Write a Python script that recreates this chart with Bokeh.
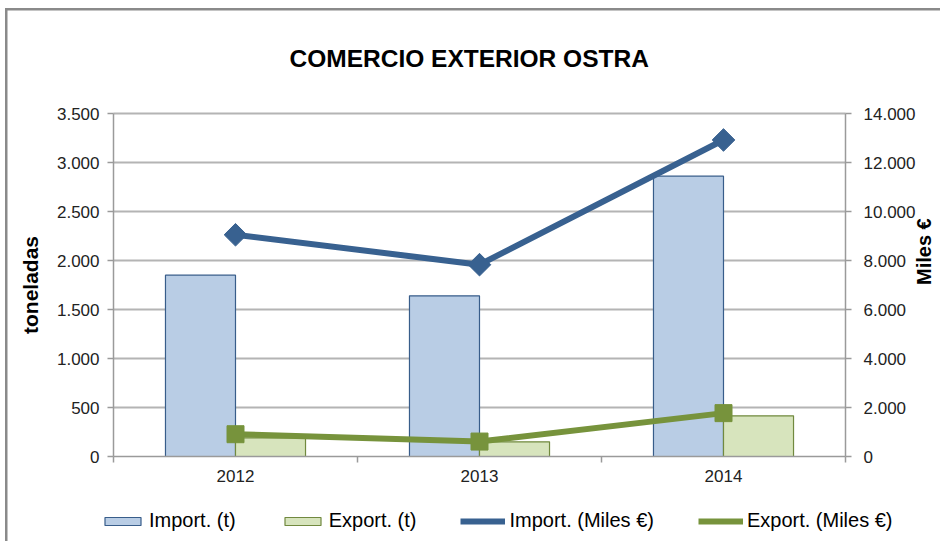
import numpy as np
from bokeh.plotting import figure
from bokeh.models import (Range1d, LinearAxis, FixedTicker, CustomJSTickFormatter,
                          Legend, LegendItem, ColumnDataSource)
from bokeh.transform import dodge
from bokeh.embed import file_html
from bokeh.resources import INLINE

# ---- data ----
years = ["2012", "2013", "2014"]
import_t = [1850, 1640, 2860]
export_t = [190, 150, 415]
import_eur = [9050, 7830, 12920]
export_eur = [910, 610, 1770]
left_ticks = [0, 500, 1000, 1500, 2000, 2500, 3000, 3500]
right_ticks = [0, 2000, 4000, 6000, 8000, 10000, 12000, 14000]
series_names = ["Import. (t)", "Export. (t)", "Import. (Miles €)", "Export. (Miles €)"]

# ---- layout constants (pixels) ----
W, H = 940, 541
FRAME_TOP = 96            # top of the drawing frame (below the title)
TOP = 113                 # top of the value axes
AX_L, AX_R = 113, 845     # left / right value axes
AX_B = 456                # category axis (zero line)

FONT = "Liberation Sans"
IMP_FILL, IMP_LINE = "#B9CDE5", "#385D8A"
EXP_FILL, EXP_LINE = "#D7E4BD", "#71893F"
IMP_SERIES = "#386190"
EXP_SERIES = "#77933C"
GRID = "#B4B4B4"
AXIS = "#9A9A9A"

n = len(years)
xpos = [i + 0.5 for i in range(n)]
src = ColumnDataSource(dict(x=xpos, year=years, imp_t=import_t, exp_t=export_t,
                            imp_e=import_eur, exp_e=export_eur))

# the frame covers the picture below the title; axes sit at fixed data locations
px_x = (AX_R - AX_L) / n
x_range = Range1d(-AX_L / px_x, n + (W - AX_R) / px_x)
ly0, ly1 = left_ticks[0], left_ticks[-1]
ry0, ry1 = right_ticks[0], right_ticks[-1]
below = (H - AX_B) / (AX_B - TOP)
above = (TOP - FRAME_TOP) / (AX_B - TOP)
y_range = Range1d(ly0 - below * (ly1 - ly0), ly1 + above * (ly1 - ly0))

p = figure(width=W, height=H, output_backend="svg", toolbar_location=None,
           x_range=x_range, y_range=y_range,
           min_border_left=0, min_border_right=0, min_border_top=FRAME_TOP, min_border_bottom=0,
           y_axis_location=None)
p.outline_line_color = None
p.background_fill_color = None
p.border_fill_color = None
# chart-area border: only its top and left edges are inside the picture
p.styles = {"background-color": "white",
            "box-shadow": "inset 5px 8px 0 0 #FFFFFF, inset 7.5px 10.5px 0 0 #8A8A8A"}

p.title.text = "COMERCIO EXTERIOR OSTRA"
p.title.text_font = FONT
p.title.text_font_size = "24.5px"
p.title.text_font_style = "bold"
p.title.text_color = "#000000"
p.title.align = "left"
p.title.offset = 289
p.title.standoff = 50

fmt = CustomJSTickFormatter(code="return Math.round(tick).toString().replace(/\\B(?=(\\d{3})+(?!\\d))/g, '.');")

def style_axis(ax):
    ax.axis_line_color = AXIS
    ax.axis_line_width = 1.5
    ax.major_tick_line_color = AXIS
    ax.major_tick_line_width = 1.5
    ax.major_tick_out = 6
    ax.major_tick_in = 0
    ax.minor_tick_line_color = None
    ax.major_label_text_font = FONT
    ax.major_label_text_font_size = "17px"
    ax.major_label_text_color = "#222222"
    ax.axis_label_text_font = FONT
    ax.axis_label_text_font_size = "21px"
    ax.axis_label_text_font_style = "bold"
    ax.axis_label_text_color = "#000000"

# left axis
yl = LinearAxis(ticker=FixedTicker(ticks=left_ticks), formatter=fmt, axis_label="toneladas",
                fixed_location=0, bounds=(ly0, ly1))
style_axis(yl)
yl.major_label_standoff = 8
yl.axis_label_standoff = 12
p.add_layout(yl, "left")

# right axis
eur_range = Range1d(ry0 - below * (ry1 - ry0), ry1 + above * (ry1 - ry0))
p.extra_y_ranges = {"eur": eur_range}
yr = LinearAxis(y_range_name="eur", ticker=FixedTicker(ticks=right_ticks), formatter=fmt,
                axis_label="Miles €", fixed_location=n, bounds=(ry0, ry1))
style_axis(yr)
yr.axis_label_text_font_size = "20px"
yr.axis_label_orientation = np.pi / 2
yr.major_label_standoff = 12
yr.axis_label_standoff = 6
p.add_layout(yr, "right")

# category axis
xa = p.xaxis[0]
xa.fixed_location = ly0
xa.bounds = (0, n)
xa.ticker = FixedTicker(ticks=xpos, minor_ticks=list(range(n + 1)))
xa.formatter = CustomJSTickFormatter(args=dict(years=years),
                                     code="return years[Math.floor(tick)];")
style_axis(xa)
xa.major_tick_line_color = None
xa.minor_tick_line_color = AXIS
xa.minor_tick_line_width = 1.5
xa.minor_tick_out = 6
xa.minor_tick_in = 0
xa.major_label_standoff = 7

# horizontal grid lines, restricted to the plotting area
p.xgrid.visible = False
grid = p.ygrid[0]
if "cross_bounds" in grid.properties():
    grid.ticker = FixedTicker(ticks=left_ticks[1:])
    grid.cross_bounds = (0, n)
    grid.grid_line_color = GRID
    grid.grid_line_width = 2
else:
    grid.visible = False
    p.segment(x0=0, x1=n, y0=left_ticks[1:], y1=left_ticks[1:],
              line_color=GRID, line_width=2)

bw = 0.287
b1 = p.vbar(x=dodge("x", -bw / 2, range=p.x_range), top="imp_t", width=bw, source=src,
            fill_color=IMP_FILL, line_color=IMP_LINE, line_width=1.2)
b2 = p.vbar(x=dodge("x", bw / 2, range=p.x_range), top="exp_t", width=bw, source=src,
            fill_color=EXP_FILL, line_color=EXP_LINE, line_width=1.2)
l1 = p.line("x", "imp_e", source=src, y_range_name="eur", line_color=IMP_SERIES, line_width=6)
m1 = p.scatter("x", "imp_e", source=src, y_range_name="eur", marker="square", angle=np.pi / 4,
               size=16, fill_color=IMP_SERIES, line_color=IMP_SERIES)
l2 = p.line("x", "exp_e", source=src, y_range_name="eur", line_color=EXP_SERIES, line_width=6)
m2 = p.scatter("x", "exp_e", source=src, y_range_name="eur", marker="square",
               size=17, fill_color=EXP_SERIES, line_color=EXP_SERIES)

legend = Legend(items=[
    LegendItem(label=series_names[0], renderers=[b1]),
    LegendItem(label=series_names[1], renderers=[b2]),
    LegendItem(label=series_names[2], renderers=[l1, m1]),
    LegendItem(label=series_names[3], renderers=[l2, m2]),
], orientation="horizontal", location=(100, 9))
legend.label_text_font = FONT
legend.label_text_font_size = "20px"
legend.label_text_color = "#000000"
legend.label_height = 22
legend.glyph_width = 45
legend.glyph_height = 10
legend.label_standoff = 4
legend.spacing = 44
legend.padding = 0
legend.margin = 0
legend.border_line_color = None
legend.background_fill_alpha = 0
p.add_layout(legend)

open("out.html", "w").write(file_html(p, INLINE))
